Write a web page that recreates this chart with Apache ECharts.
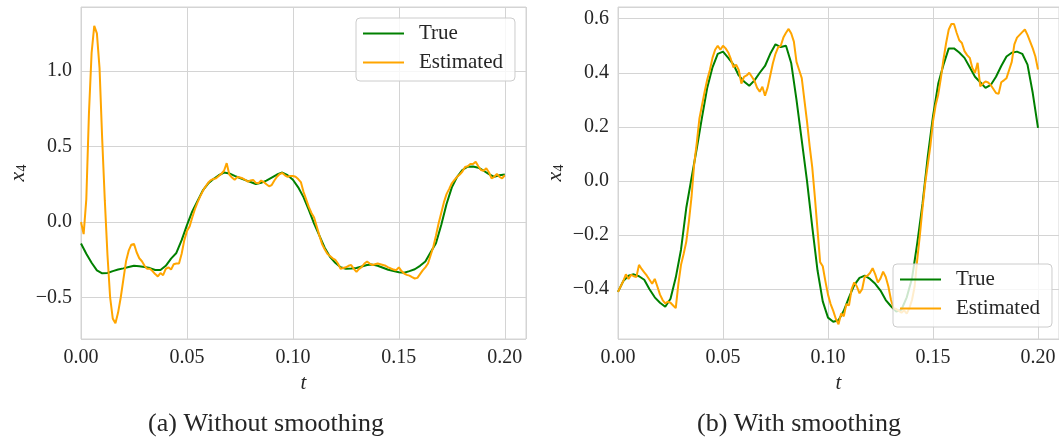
<!DOCTYPE html>
<html>
<head>
<meta charset="utf-8">
<script src="https://cdn.jsdelivr.net/npm/echarts@6/dist/echarts.min.js"></script>
<style>
  html, body { margin: 0; padding: 0; background: #ffffff; }
  #chart { width: 1059px; height: 443px; }
</style>
</head>
<body>
<div id="chart"></div>
<script>
// Sampling steps (seconds) of the two signal families
const STEP_TRUE = 0.0025;
const STEP_EST = 0.00125;

// (a) Without smoothing: true state x4
const trueA = [
  -0.142, -0.21, -0.27, -0.32, -0.340, -0.338, -0.325, -0.315, -0.307, -0.298,
  -0.290, -0.293, -0.298, -0.305, -0.318, -0.318, -0.29, -0.242, -0.205, -0.12,
  -0.02, 0.07, 0.14, 0.21, 0.255, 0.285, 0.31, 0.328, 0.322, 0.306,
  0.292, 0.278, 0.265, 0.252, 0.26, 0.275, 0.295, 0.315, 0.328, 0.31,
  0.28, 0.23, 0.165, 0.08, -0.01, -0.09, -0.17, -0.23, -0.27, -0.30,
  -0.31, -0.308, -0.305, -0.295, -0.285, -0.282, -0.29, -0.303, -0.316, -0.325,
  -0.332, -0.336, -0.325, -0.313, -0.29, -0.262, -0.20, -0.14, -0.02, 0.12,
  0.23, 0.30, 0.345, 0.367, 0.368, 0.36, 0.34, 0.318, 0.30, 0.31,
  0.315
];

// (a) Without smoothing: estimated x4
const estA = [
  0.00, -0.08, 0.15, 0.72, 1.12, 1.30, 1.25, 1.02,
  0.55, 0.14, -0.22, -0.50, -0.64, -0.67, -0.60, -0.50,
  -0.38, -0.26, -0.19, -0.15, -0.145, -0.20, -0.24, -0.26,
  -0.29, -0.31, -0.31, -0.325, -0.345, -0.36, -0.338, -0.352,
  -0.31, -0.30, -0.315, -0.28, -0.275, -0.275, -0.21, -0.12,
  -0.06, -0.03, 0.03, 0.085, 0.13, 0.17, 0.205, 0.235,
  0.26, 0.278, 0.285, 0.29, 0.305, 0.32, 0.34, 0.39,
  0.315, 0.295, 0.28, 0.298, 0.295, 0.29, 0.28, 0.268,
  0.275, 0.279, 0.26, 0.257, 0.275, 0.265, 0.25, 0.237,
  0.245, 0.275, 0.30, 0.318, 0.325, 0.31, 0.30, 0.305,
  0.305, 0.30, 0.285, 0.265, 0.20, 0.15, 0.10, 0.06,
  0.03, -0.03, -0.09, -0.145, -0.18, -0.21, -0.225, -0.24,
  -0.25, -0.275, -0.31, -0.305, -0.30, -0.29, -0.285, -0.31,
  -0.33, -0.31, -0.297, -0.275, -0.262, -0.275, -0.285, -0.28,
  -0.275, -0.28, -0.285, -0.29, -0.30, -0.308, -0.315, -0.319,
  -0.30, -0.325, -0.341, -0.35, -0.355, -0.365, -0.374, -0.37,
  -0.345, -0.32, -0.30, -0.275, -0.22, -0.165, -0.09, -0.01,
  0.06, 0.13, 0.185, 0.22, 0.257, 0.28, 0.30, 0.315,
  0.335, 0.365, 0.37, 0.385, 0.385, 0.40, 0.37, 0.345,
  0.34, 0.356, 0.33, 0.29, 0.30, 0.318, 0.30, 0.29,
  0.31
];

// (b) With smoothing: true state x4
const trueB = [
  -0.41, -0.37, -0.35, -0.345, -0.352, -0.365, -0.40, -0.43, -0.45, -0.465,
  -0.435, -0.357, -0.254, -0.10, 0.01, 0.12, 0.235, 0.345, 0.42, 0.47,
  0.478, 0.455, 0.43, 0.39, 0.368, 0.352, 0.372, 0.40, 0.425, 0.47,
  0.505, 0.495, 0.50, 0.435, 0.30, 0.15, 0.0, -0.17, -0.33, -0.445,
  -0.505, -0.52, -0.515, -0.48, -0.43, -0.385, -0.358, -0.35, -0.362, -0.38,
  -0.405, -0.44, -0.463, -0.483, -0.475, -0.43, -0.36, -0.23, -0.085, 0.09,
  0.24, 0.36, 0.43, 0.49, 0.49, 0.475, 0.455, 0.42, 0.385, 0.365,
  0.344, 0.355, 0.385, 0.425, 0.46, 0.474, 0.478, 0.47, 0.43, 0.325,
  0.196
];

// (b) With smoothing: estimated x4
const estB = [
  -0.41, -0.39, -0.37, -0.345, -0.362, -0.347, -0.352, -0.355,
  -0.31, -0.325, -0.338, -0.35, -0.365, -0.38, -0.362, -0.39,
  -0.42, -0.44, -0.452, -0.446, -0.45, -0.46, -0.47, -0.38,
  -0.31, -0.27, -0.225, -0.15, -0.06, 0.06, 0.14, 0.23,
  0.28, 0.33, 0.375, 0.41, 0.455, 0.485, 0.50, 0.485,
  0.50, 0.49, 0.475, 0.45, 0.42, 0.43, 0.41, 0.36,
  0.385, 0.39, 0.40, 0.385, 0.37, 0.344, 0.33, 0.348,
  0.315, 0.345, 0.39, 0.435, 0.47, 0.494, 0.50, 0.53,
  0.548, 0.562, 0.545, 0.515, 0.44, 0.41, 0.38, 0.30,
  0.22, 0.13, 0.05, -0.06, -0.18, -0.30, -0.315, -0.37,
  -0.42, -0.455, -0.48, -0.51, -0.53, -0.49, -0.50, -0.455,
  -0.46, -0.40, -0.375, -0.39, -0.415, -0.40, -0.353, -0.35,
  -0.34, -0.322, -0.345, -0.375, -0.36, -0.335, -0.355, -0.39,
  -0.44, -0.47, -0.473, -0.48, -0.487, -0.478, -0.49, -0.47,
  -0.44, -0.39, -0.29, -0.20, -0.10, -0.01, 0.06, 0.13,
  0.22, 0.28, 0.32, 0.38, 0.45, 0.51, 0.56, 0.58,
  0.58, 0.548, 0.52, 0.51, 0.48, 0.465, 0.455, 0.418,
  0.40, 0.437, 0.35, 0.36, 0.368, 0.364, 0.355, 0.34,
  0.325, 0.322, 0.365, 0.372, 0.38, 0.41, 0.44, 0.505,
  0.53, 0.54, 0.55, 0.56, 0.54, 0.515, 0.49, 0.46,
  0.412
];

const seriesNames = ['True', 'Estimated'];
const captions = ['(a) Without smoothing', '(b) With smoothing'];
const xName = 't';
const yName = '{i|x}{s|4}';

const GREEN = '#008000';
const ORANGE = '#ffa500';
const GRIDC = '#d4d4d4';
const TEXTC = '#262626';
const SERIF = '"Liberation Serif", "DejaVu Serif", serif';

function pairs(values, step) {
  return values.map((v, i) => [+(i * step).toFixed(5), v]);
}

function fmtSigned(v, digits) {
  return (v < 0 ? '\u2212' : '') + Math.abs(v).toFixed(digits);
}

const panels = [
  { left: 81, yMin: -0.775, yMax: 1.425, legendLeft: 356, legendTop: 18, tru: trueA, est: estA },
  { left: 618, yMin: -0.584, yMax: 0.643, legendLeft: 893, legendTop: 264, tru: trueB, est: estB }
];

const grids = [], xAxes = [], yAxes = [], series = [], legends = [];

panels.forEach((p, k) => {
  grids.push({
    left: p.left, top: 7, width: 445, height: 332,
    show: true, borderColor: GRIDC, borderWidth: 1, backgroundColor: 'transparent'
  });
  xAxes.push({
    type: 'value', gridIndex: k, min: 0, max: 0.21, interval: 0.05,
    axisLine: { show: false }, axisTick: { show: false },
    splitLine: { show: true, lineStyle: { color: GRIDC, width: 1 } },
    axisLabel: {
      showMinLabel: true, showMaxLabel: false, margin: 9,
      formatter: v => v.toFixed(2),
      fontFamily: SERIF, fontSize: 20, color: TEXTC
    },
    name: xName, nameLocation: 'middle', nameGap: 30,
    nameTextStyle: { fontFamily: SERIF, fontStyle: 'italic', fontSize: 21, color: TEXTC }
  });
  yAxes.push({
    type: 'value', gridIndex: k, min: p.yMin, max: p.yMax, splitNumber: 5,
    axisLine: { show: false }, axisTick: { show: false },
    splitLine: { show: true, lineStyle: { color: GRIDC, width: 1 } },
    axisLabel: {
      showMinLabel: false, showMaxLabel: false, margin: 9,
      formatter: v => fmtSigned(v, 1),
      fontFamily: SERIF, fontSize: 20, color: TEXTC
    },
    name: yName, nameLocation: 'middle', nameGap: 52, nameRotate: 90,
    nameTextStyle: {
      color: TEXTC,
      rich: {
        i: { fontFamily: SERIF, fontStyle: 'italic', fontSize: 22, lineHeight: 22, color: TEXTC },
        s: { fontFamily: SERIF, fontSize: 14, lineHeight: 10, verticalAlign: 'bottom', color: TEXTC }
      }
    }
  });
  series.push({
    type: 'line', name: seriesNames[0], xAxisIndex: k, yAxisIndex: k,
    data: pairs(p.tru, STEP_TRUE), showSymbol: false, symbol: 'none',
    lineStyle: { color: GREEN, width: 2 }, itemStyle: { color: GREEN },
    animation: false, z: 2
  });
  series.push({
    type: 'line', name: seriesNames[1], xAxisIndex: k, yAxisIndex: k,
    data: pairs(p.est, STEP_EST), showSymbol: false, symbol: 'none',
    lineStyle: { color: ORANGE, width: 2 }, itemStyle: { color: ORANGE },
    animation: false, z: 3
  });
  legends.push({
    left: p.legendLeft, top: p.legendTop, orient: 'vertical',
    data: seriesNames, icon: 'rect', itemWidth: 41, itemHeight: 2, itemGap: 8,
    padding: [5, 12, 8, 7],
    backgroundColor: 'rgba(255,255,255,0.8)', borderColor: '#cccccc',
    borderWidth: 1, borderRadius: 4,
    selectedMode: false,
    textStyle: { fontFamily: SERIF, fontSize: 21, lineHeight: 21, color: TEXTC, padding: [0, 0, 0, 10] },
    z: 10
  });
});

const chart = echarts.init(document.getElementById('chart'), null, { renderer: 'canvas' });
chart.setOption({
  backgroundColor: '#ffffff',
  animation: false,
  grid: grids,
  xAxis: xAxes,
  yAxis: yAxes,
  legend: legends,
  series: series,
  graphic: [
    { type: 'text', x: 266, y: 424, style: { text: captions[0], fill: TEXTC, font: '26px "Liberation Serif", serif', textAlign: 'center', textVerticalAlign: 'middle' } },
    { type: 'text', x: 799, y: 424, style: { text: captions[1], fill: TEXTC, font: '26px "Liberation Serif", serif', textAlign: 'center', textVerticalAlign: 'middle' } }
  ]
});
</script>
</body>
</html>
